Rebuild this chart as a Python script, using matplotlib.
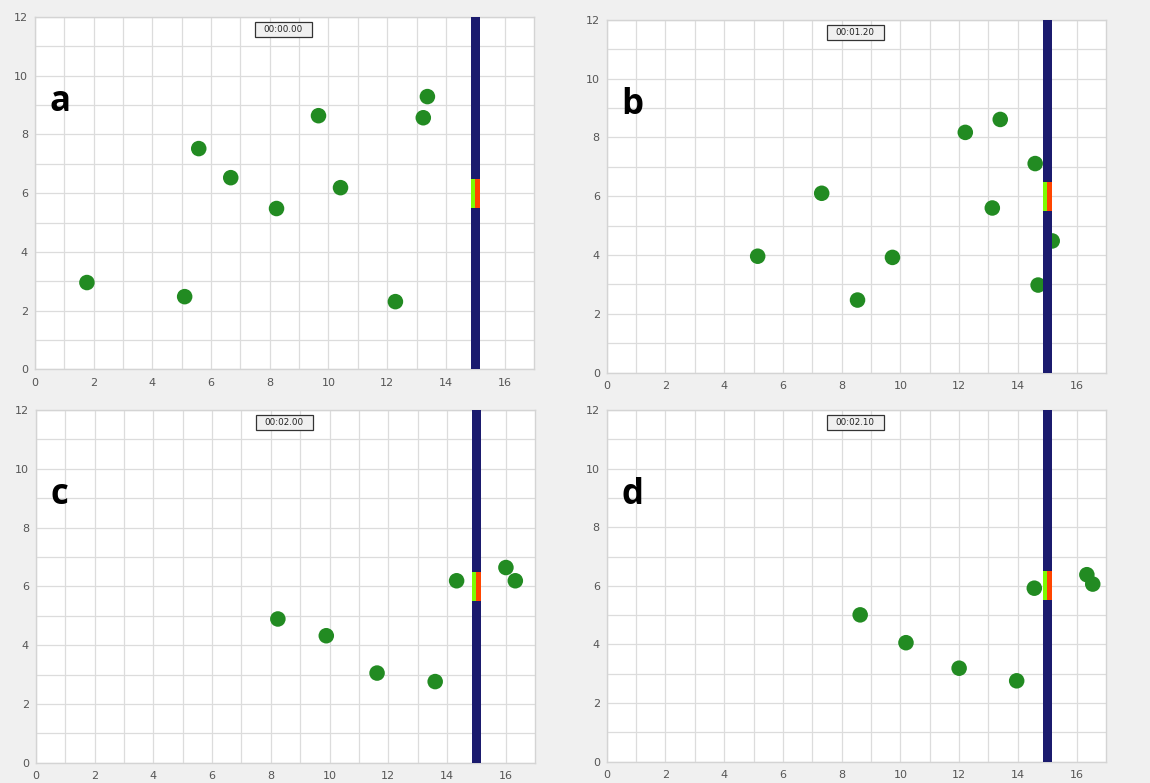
import matplotlib
matplotlib.use("Agg")
import matplotlib.pyplot as plt
from matplotlib.patches import Rectangle
import numpy as np

# Particle positions for each snapshot
a_x = [1.77, 5.10, 5.58, 6.67, 8.23, 9.66, 10.41, 12.28, 13.23, 13.37]
a_y = [2.96, 2.48, 7.52, 6.53, 5.48, 8.64, 6.19, 2.31, 8.57, 9.29]

b_x = [5.14, 7.32, 8.54, 9.73, 12.21, 13.40, 13.13, 14.59, 15.17, 14.69]
b_y = [3.96, 6.10, 2.47, 3.92, 8.17, 8.61, 5.60, 7.11, 4.48, 2.98]

c_x = [8.24, 9.89, 11.62, 13.60, 14.33, 16.01, 16.33]
c_y = [4.89, 4.32, 3.05, 2.76, 6.19, 6.64, 6.19]

d_x = [8.63, 10.19, 12.00, 13.96, 14.56, 16.35, 16.55]
d_y = [5.01, 4.06, 3.19, 2.76, 5.92, 6.38, 6.06]

panel_letters = ["a", "b", "c", "d"]
timestamps = ["00:00.00", "00:01.20", "00:02.00", "00:02.10"]

# Wall with a door opening
wall_x = 15.0
wall_width = 0.3
door_bottom = 5.5
door_top = 6.5
room_height = 12.0
room_width = 17.0

x_ticks = list(range(0, 17, 2))
y_ticks = list(range(0, 13, 2))

fig = plt.figure(figsize=(11.5, 7.83), dpi=100)
fig.patch.set_facecolor("#f0f0f0")

positions = [
    [0.0304, 0.5281, 0.4339, 0.4502],
    [0.5276, 0.5240, 0.4341, 0.4508],
    [0.0313, 0.0259, 0.4339, 0.4505],
    [0.5276, 0.0272, 0.4341, 0.4492],
]

data = [(a_x, a_y), (b_x, b_y), (c_x, c_y), (d_x, d_y)]

for pos, (xs, ys), letter, stamp in zip(positions, data, panel_letters, timestamps):
    ax = fig.add_axes(pos)
    ax.set_facecolor("white")
    ax.set_xlim(0, room_width)
    ax.set_ylim(0, room_height)
    ax.set_xticks(x_ticks)
    ax.set_yticks(y_ticks)
    ax.set_xticks(np.arange(1, room_width, 2), minor=True)
    ax.set_yticks(np.arange(1, room_height, 2), minor=True)
    ax.grid(True, which="both", color="#dcdcdc", linewidth=0.9, zorder=0)
    ax.set_axisbelow(True)
    ax.tick_params(which="both", length=0, labelsize=8, labelcolor="#555555")
    ax.tick_params(axis="x", pad=6)
    ax.tick_params(axis="y", pad=5)
    for sp in ax.spines.values():
        sp.set_color("#d4d4d4")
        sp.set_linewidth(1.0)

    # particles
    ax.scatter(xs, ys, s=125, color="#228b22", edgecolors="none", zorder=2)

    # wall segments below and above the door
    ax.bar(wall_x, door_bottom, bottom=0, width=wall_width,
           color="#1b1b6e", zorder=3)
    ax.bar(wall_x, room_height - door_top, bottom=door_top, width=wall_width,
           color="#1b1b6e", zorder=3)
    # door: two halves
    ax.bar(wall_x - wall_width / 4, door_top - door_bottom, bottom=door_bottom,
           width=wall_width / 2, color="#7cfc00", zorder=3)
    ax.bar(wall_x + wall_width / 4, door_top - door_bottom, bottom=door_bottom,
           width=wall_width / 2, color="#ff4500", zorder=3)

    # time display
    bx, by, bw, bh = 8.46, 11.565, 1.94, 0.5
    ax.add_patch(Rectangle((bx - bw / 2, by - bh / 2), bw, bh,
                           facecolor="#f0f0f0", edgecolor="#333333",
                           linewidth=0.9, zorder=4))
    ax.text(bx, by, stamp, ha="center", va="center", fontsize=6.3,
            color="#222222", zorder=5)

    # panel letter
    ax.text(0.5, 8.8, letter, ha="left", va="baseline", fontsize=25,
            fontweight="bold", family="Open Sans", color="black", zorder=5)

fig.savefig("out.png", dpi=100, facecolor=fig.get_facecolor())
